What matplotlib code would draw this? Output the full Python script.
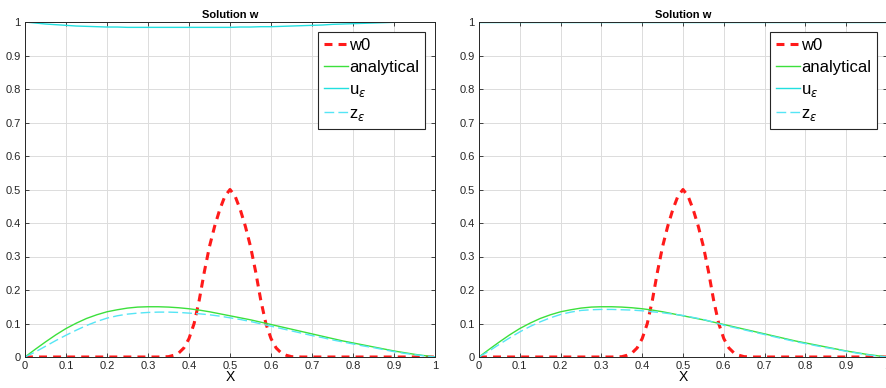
import numpy as np
import matplotlib
matplotlib.use('Agg')
import matplotlib.pyplot as plt

# x grid for the smooth curves (step 0.025)
x_vals = [0.0, 0.025, 0.05, 0.075, 0.1, 0.125, 0.15, 0.175, 0.2, 0.225, 0.25, 0.275, 0.3,
          0.325, 0.35, 0.375, 0.4, 0.425, 0.45, 0.475, 0.5, 0.525, 0.55, 0.575, 0.6,
          0.625, 0.65, 0.675, 0.7, 0.725, 0.75, 0.775, 0.8, 0.825, 0.85, 0.875, 0.9,
          0.925, 0.95, 0.975, 1.0]

analytical = [0.0, 0.023, 0.045, 0.066, 0.085, 0.101, 0.115, 0.126, 0.135, 0.141, 0.146, 0.149, 0.150,
              0.150, 0.149, 0.147, 0.144, 0.140, 0.135, 0.129, 0.123, 0.117, 0.111, 0.104, 0.097,
              0.090, 0.083, 0.076, 0.069, 0.062, 0.055, 0.048, 0.042, 0.036, 0.030, 0.024, 0.018,
              0.013, 0.008, 0.004, 0.0]

# left panel
u_left = [1.0, 0.997, 0.994, 0.992, 0.990, 0.988, 0.987, 0.986, 0.985, 0.985, 0.984, 0.984, 0.984,
          0.984, 0.984, 0.984, 0.984, 0.984, 0.984, 0.984, 0.984, 0.985, 0.985, 0.986, 0.986,
          0.987, 0.988, 0.989, 0.990, 0.991, 0.993, 0.994, 0.995, 0.996, 0.997, 0.998, 0.999,
          0.9995, 1.0, 1.0, 1.0]
z_left = [0.0, 0.015, 0.032, 0.049, 0.065, 0.080, 0.094, 0.106, 0.116, 0.123, 0.128, 0.131, 0.133,
          0.134, 0.134, 0.133, 0.131, 0.129, 0.126, 0.122, 0.117, 0.112, 0.106, 0.099, 0.092,
          0.085, 0.078, 0.071, 0.064, 0.058, 0.051, 0.045, 0.039, 0.033, 0.028, 0.022, 0.016,
          0.011, 0.007, 0.003, 0.0]

# right panel
u_right = [1.0] * 41
z_right = [0.0, 0.018, 0.038, 0.057, 0.075, 0.091, 0.105, 0.117, 0.127, 0.134, 0.139, 0.141, 0.142,
           0.142, 0.141, 0.140, 0.138, 0.135, 0.132, 0.128, 0.124, 0.118, 0.112, 0.104, 0.095,
           0.088, 0.081, 0.074, 0.067, 0.060, 0.053, 0.046, 0.040, 0.034, 0.028, 0.023, 0.017,
           0.012, 0.007, 0.003, 0.0]

# initial profile w0, finer around the bump
x_w0 = [0.0, 0.1, 0.2, 0.3, 0.325, 0.35, 0.3625, 0.375, 0.3875, 0.4, 0.4125, 0.425, 0.4375,
        0.45, 0.4625, 0.475, 0.4875, 0.5, 0.5125, 0.525, 0.5375, 0.55, 0.5625, 0.575,
        0.5875, 0.6, 0.6125, 0.625, 0.6375, 0.65, 0.675, 0.7, 0.8, 0.9, 1.0]
w0 = [0.0, 0.0, 0.0, 0.0, 0.0, 0.001, 0.005, 0.012, 0.027, 0.055, 0.1, 0.17, 0.255,
      0.33, 0.39, 0.44, 0.48, 0.5, 0.48, 0.44, 0.39, 0.33, 0.255, 0.17,
      0.1, 0.055, 0.027, 0.012, 0.005, 0.001, 0.0, 0.0, 0.0, 0.0, 0.0]

tick_vals = [0, 0.1, 0.2, 0.3, 0.4, 0.5, 0.6, 0.7, 0.8, 0.9, 1]
tick_text = ['0', '0.1', '0.2', '0.3', '0.4', '0.5', '0.6', '0.7', '0.8', '0.9', '1']

plt.rcParams['font.family'] = ['Liberation Sans', 'DejaVu Sans']
plt.rcParams['mathtext.fontset'] = 'dejavusans'

fig = plt.figure(figsize=(8.87, 3.88), dpi=100)
ax_l = fig.add_axes([25 / 887, 31 / 388, 410 / 887, 335 / 388])
ax_r = fig.add_axes([479 / 887, 31 / 388, 408 / 887, 335 / 388])

for ax, u, z in [(ax_l, u_left, z_left), (ax_r, u_right, z_right)]:
    ax.plot(x_w0, w0, '--', color='#ff1a1a', lw=2.2, label='w0', dashes=(2.6, 2.0))
    ax.plot(x_vals, analytical, '-', color='#3ce03c', lw=1.0, label='analytical')
    ax.plot(x_vals, u, '-', color='#22e0e0', lw=1.0, label=r'u$_{\epsilon}$')
    ax.plot(x_vals, z, '--', color='#55e5f5', lw=1.0, label=r'z$_{\epsilon}$', dashes=(7, 3))
    ax.set_xlim(0, 1)
    ax.set_ylim(0, 1)
    ax.set_xticks(tick_vals)
    ax.set_yticks(tick_vals)
    ax.set_xticklabels(tick_text)
    ax.set_yticklabels(tick_text)
    ax.grid(True, color='#dcdcdc', lw=0.7)
    ax.tick_params(direction='in', length=3, labelsize=8, colors='#262626',
                   top=True, right=True, width=0.6, pad=3)
    for s in ax.spines.values():
        s.set_color('#262626')
        s.set_linewidth(0.7)
    ax.set_title('Solution w', fontsize=8, fontweight='bold', pad=3)
    ax.set_xlabel('X', fontsize=10, labelpad=-1)
    leg = ax.legend(loc='upper right', fontsize=12, handlelength=1.4, handletextpad=0.1,
                    borderaxespad=0.6, labelspacing=0.42, fancybox=False, framealpha=1,
                    borderpad=0.35)
    leg.get_frame().set_edgecolor('#262626')
    leg.get_frame().set_linewidth(0.8)

fig.savefig('out.png', dpi=100)
